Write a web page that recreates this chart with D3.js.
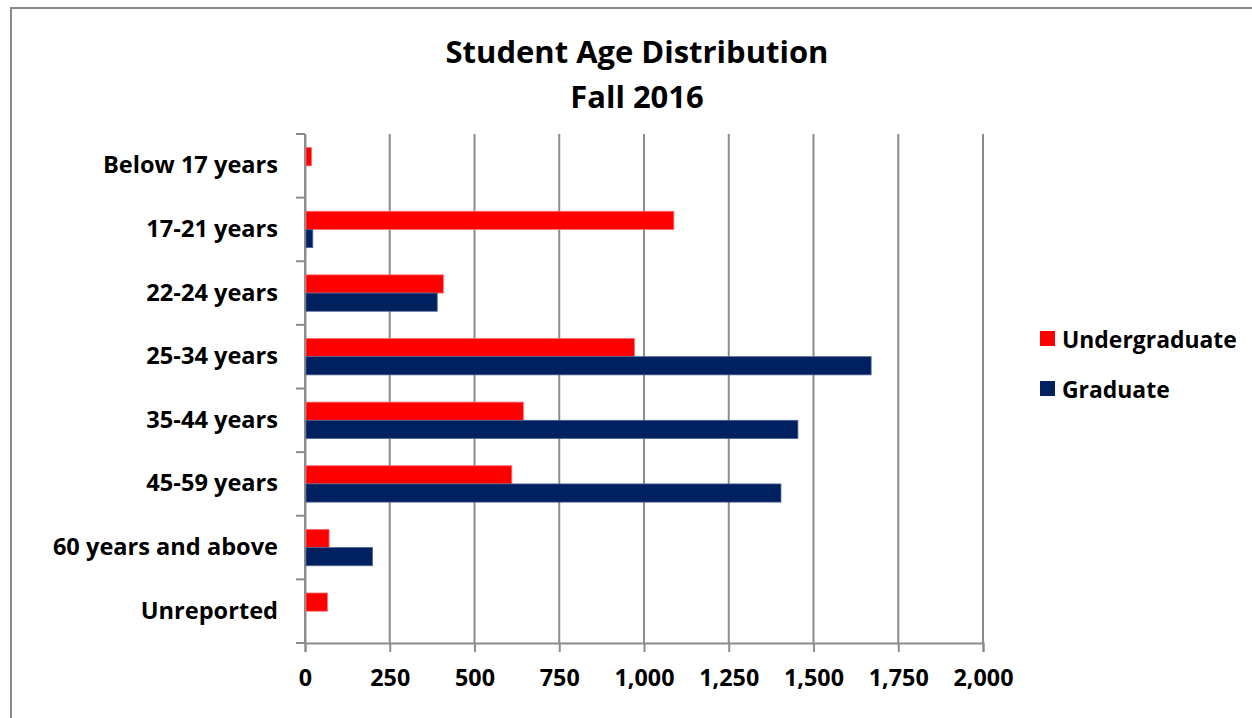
<!DOCTYPE html>
<html>
<head>
<meta charset="utf-8">
<script src="https://cdn.jsdelivr.net/npm/d3@7"></script>
<style>
  html, body { margin: 0; padding: 0; background: #fff; }
  svg { display: block; }
  text { font-family: "Open Sans", Lato, sans-serif; font-weight: bold; fill: #000; }
</style>
</head>
<body>
<svg id="chart" width="1252" height="718"></svg>
<script>
const categories = ["Below 17 years", "17-21 years", "22-24 years", "25-34 years",
                    "35-44 years", "45-59 years", "60 years and above", "Unreported"];
const undergraduate = [19, 1088, 408, 972, 644, 610, 71, 66];
const graduate = [0, 23, 390, 1670, 1454, 1404, 199, 0];
const seriesNames = ["Undergraduate", "Graduate"];
const seriesColors = ["#FF0000", "#002060"];
const xTicks = [0, 250, 500, 750, 1000, 1250, 1500, 1750, 2000];
const titleLines = ["Student Age Distribution", "Fall 2016"];

const svg = d3.select("#chart");
const W = 1252, H = 718;
const FONT = "'Open Sans', Lato, sans-serif";

// font size that makes a sample string reach a target width
function fitSize(sample, target) {
  const t = svg.append("text").style("font-family", FONT).style("font-weight", "bold")
    .style("font-size", "20px").text(sample);
  const w = t.node().getComputedTextLength();
  t.remove();
  return 20 * target / w;
}
const labelSize = fitSize("Below 17 years", 175);
const titleSize = fitSize("Student Age Distribution", 383);
const legendSize = fitSize("Undergraduate", 175);
const tickSize = fitSize("1,000", 60);

// outer frame (extends beyond the visible area on the right and bottom)
svg.append("rect")
  .attr("x", 11).attr("y", 8).attr("width", W + 20).attr("height", H + 20)
  .attr("fill", "none").attr("stroke", "#888").attr("stroke-width", 2);

const plot = { left: 305, right: 983, top: 134, bottom: 643 };

const x = d3.scaleLinear().domain([0, 2000]).range([plot.left, plot.right]);
const y = d3.scaleBand().domain(categories).range([plot.top, plot.bottom]).paddingInner(0).paddingOuter(0);
const barH = y.bandwidth() / 3.5;
const sub = d3.scaleBand().domain(seriesNames).range([barH * 0.75, barH * 2.75]);

// gridlines
svg.append("g").selectAll("line").data(xTicks).join("line")
  .attr("x1", d => x(d)).attr("x2", d => x(d))
  .attr("y1", plot.top).attr("y2", plot.bottom)
  .attr("stroke", "#8c8c8c").attr("stroke-width", 2);

// bottom axis
const xAxis = d3.axisBottom(x).tickValues(xTicks).tickSize(9).tickPadding(17)
  .tickFormat(d3.format(","));
const gx = svg.append("g").attr("transform", `translate(0,${plot.bottom})`).call(xAxis);
gx.select(".domain").attr("stroke", "#8c8c8c").attr("stroke-width", 2);
gx.selectAll(".tick line").attr("stroke", "#8c8c8c").attr("stroke-width", 2);
gx.selectAll(".tick text").style("font-size", tickSize + "px").style("font-family", FONT)
  .style("font-weight", "bold").attr("fill", "#000");

// left axis
const yAxis = d3.axisLeft(y).tickSize(0).tickPadding(27);
const gy = svg.append("g").attr("transform", `translate(${plot.left},0)`).call(yAxis);
gy.select(".domain").attr("stroke", "#8c8c8c").attr("stroke-width", 2);
gy.selectAll(".tick text").style("font-size", labelSize + "px").style("font-family", FONT)
  .style("font-weight", "bold").attr("fill", "#000");
// boundary ticks between categories
const bounds = categories.map(c => y(c)).concat([plot.bottom]);
svg.append("g").selectAll("line").data(bounds).join("line")
  .attr("x1", plot.left - 9).attr("x2", plot.left)
  .attr("y1", d => d).attr("y2", d => d)
  .attr("stroke", "#8c8c8c").attr("stroke-width", 2);

// bars
const data = categories.map((c, i) => ({ cat: c, vals: [undergraduate[i], graduate[i]] }));
const groups = svg.append("g").selectAll("g").data(data).join("g")
  .attr("transform", d => `translate(0,${y(d.cat)})`);
groups.selectAll("rect").data(d => d.vals.map((v, j) => ({ v, s: seriesNames[j], j })))
  .join("rect")
  .attr("x", x(0) + 1)
  .attr("y", d => sub(d.s))
  .attr("width", d => Math.max(0, x(d.v) - x(0) - 1))
  .attr("height", sub.bandwidth())
  .attr("fill", d => seriesColors[d.j])
  .attr("stroke", d => d.j === 0 ? "#ff6b6b" : "#4f6390")
  .attr("stroke-width", d => d.v > 0 ? 0.8 : 0);

// title
svg.append("g").selectAll("text").data(titleLines).join("text")
  .attr("x", 637).attr("y", (d, i) => 51 + i * 45)
  .attr("text-anchor", "middle").attr("dominant-baseline", "central")
  .style("font-size", titleSize + "px").text(d => d);

// legend
const leg = svg.append("g").selectAll("g").data(seriesNames).join("g")
  .attr("transform", (d, i) => `translate(1040,${339 + i * 50})`);
leg.append("rect").attr("x", 0).attr("y", -8).attr("width", 15).attr("height", 15)
  .attr("fill", (d, i) => seriesColors[i]);
leg.append("text").attr("x", 22).attr("y", 0).attr("dominant-baseline", "central")
  .style("font-size", legendSize + "px").text(d => d);
</script>
</body>
</html>
